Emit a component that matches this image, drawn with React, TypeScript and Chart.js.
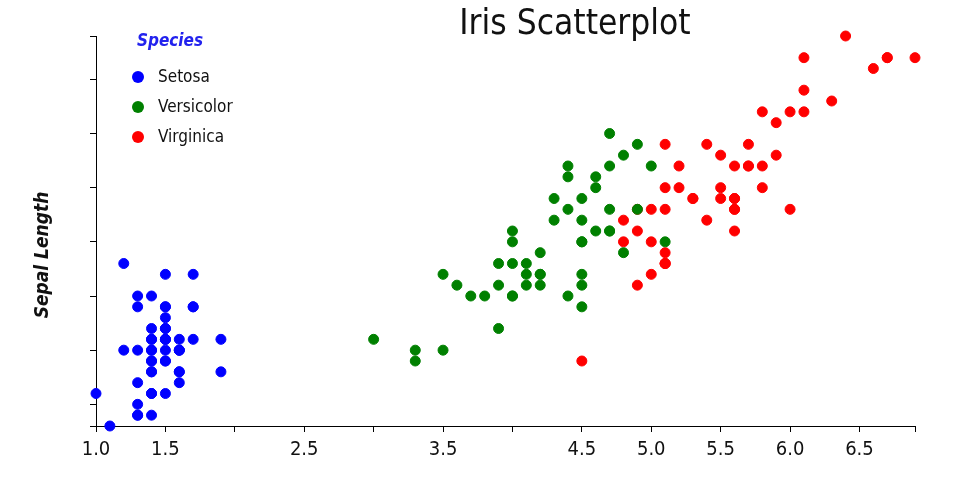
import React, { useEffect, useRef } from "react";
import { Chart, registerables } from "chart.js";

Chart.register(...registerables);

// Petal length (x) and sepal length (y) per species
const setosaX = [1.4,1.4,1.3,1.5,1.4,1.7,1.4,1.5,1.4,1.5,1.5,1.6,1.4,1.1,1.2,1.5,1.3,1.4,1.7,1.5,1.7,1.5,1.0,1.7,1.9,1.6,1.6,1.5,1.4,1.6,1.6,1.5,1.5,1.4,1.5,1.2,1.3,1.4,1.3,1.5,1.3,1.3,1.3,1.6,1.9,1.4,1.6,1.4,1.5,1.4];
const setosaY = [5.1,4.9,4.7,4.6,5.0,5.4,4.6,5.0,4.4,4.9,5.4,4.8,4.8,4.3,5.8,5.7,5.4,5.1,5.7,5.1,5.4,5.1,4.6,5.1,4.8,5.0,5.0,5.2,5.2,4.7,4.8,5.4,5.2,5.5,4.9,5.0,5.5,4.9,4.4,5.1,5.0,4.5,4.4,5.0,5.1,4.8,5.1,4.6,5.3,5.0];
const versicolorX = [4.7,4.5,4.9,4.0,4.6,4.5,4.7,3.3,4.6,3.9,3.5,4.2,4.0,4.7,3.6,4.4,4.5,4.1,4.5,3.9,4.8,4.0,4.9,4.7,4.3,4.4,4.8,5.0,4.5,3.5,3.8,3.7,3.9,5.1,4.5,4.5,4.7,4.4,4.1,4.0,4.4,4.6,4.0,3.3,4.2,4.2,4.2,4.3,3.0,4.1];
const versicolorY = [7.0,6.4,6.9,5.5,6.5,5.7,6.3,4.9,6.6,5.2,5.0,5.9,6.0,6.1,5.6,6.7,5.6,5.8,6.2,5.6,5.9,6.1,6.3,6.1,6.4,6.6,6.8,6.7,6.0,5.7,5.5,5.5,5.8,6.0,5.4,6.0,6.7,6.3,5.6,5.5,5.5,6.1,5.8,5.0,5.6,5.7,5.7,6.2,5.1,5.7];
const virginicaX = [6.0,5.1,5.9,5.6,5.8,6.6,4.5,6.3,5.8,6.1,5.1,5.3,5.5,5.0,5.1,5.3,5.5,6.7,6.9,5.0,5.7,4.9,6.7,4.9,5.7,6.0,4.8,4.9,5.6,5.8,6.1,6.4,5.6,5.1,5.6,6.1,5.6,5.5,4.8,5.4,5.6,5.1,5.1,5.9,5.7,5.2,5.0,5.2,5.4,5.1];
const virginicaY = [6.3,5.8,7.1,6.3,6.5,7.6,4.9,7.3,6.7,7.2,6.5,6.4,6.8,5.7,5.8,6.4,6.5,7.7,7.7,6.0,6.9,5.6,7.7,6.3,6.7,7.2,6.2,6.1,6.4,7.2,7.4,7.9,6.4,6.3,6.1,7.7,6.3,6.4,6.0,6.9,6.7,6.9,5.8,6.8,6.7,6.7,6.3,6.5,6.2,5.9];

const speciesNames = ["Setosa", "Versicolor", "Virginica"];
const speciesColors = ["#0000ff", "#008000", "#ff0000"];

const xTickValues = [1.0, 1.5, 2.0, 2.5, 3.0, 3.5, 4.0, 4.5, 5.0, 5.5, 6.0, 6.5, 6.9];
const xTickLabels = ["1.0", "1.5", "", "2.5", "", "3.5", "", "4.5", "5.0", "5.5", "6.0", "6.5", ""];
const yTickValues = [4.3, 4.5, 5.0, 5.5, 6.0, 6.5, 7.0, 7.5, 7.9];

const titleText = "Iris Scatterplot";
const yTitleText = "Sepal Length";
const legendTitle = "Species";

const FONT = "'DejaVu Sans Condensed', 'DejaVu Sans', sans-serif";

function zip(xs: number[], ys: number[]) {
  return xs.map((x, i) => ({ x, y: ys[i] }));
}

const overlayPlugin = {
  id: "overlay",
  afterDraw(chart: any) {
    const ctx = chart.ctx as CanvasRenderingContext2D;
    ctx.save();
    // title
    ctx.fillStyle = "#111";
    ctx.font = `35px ${FONT}`;
    ctx.textAlign = "center";
    ctx.textBaseline = "middle";
    ctx.fillText(titleText, 575, 25);

    // y title
    ctx.save();
    ctx.translate(43, 255);
    ctx.rotate(-Math.PI / 2);
    ctx.font = `italic bold 19px ${FONT}`;
    ctx.fillStyle = "#111";
    ctx.fillText(yTitleText, 0, 0);
    ctx.restore();

    // legend
    ctx.font = `italic bold 17px ${FONT}`;
    ctx.fillStyle = "#2222ee";
    ctx.textAlign = "center";
    ctx.fillText(legendTitle, 170, 42);
    ctx.textAlign = "left";
    ctx.font = `17px ${FONT}`;
    chart.data.datasets.forEach((ds: any, i: number) => {
      const cy = 77 + i * 30;
      ctx.beginPath();
      ctx.arc(138, cy, 6, 0, Math.PI * 2);
      ctx.fillStyle = ds.backgroundColor;
      ctx.fill();
      ctx.fillStyle = "#111";
      ctx.fillText(ds.label, 158, cy + 1);
    });
    ctx.restore();
  },
};

export default function App() {
  const ref = useRef<HTMLCanvasElement | null>(null);
  useEffect(() => {
    if (!ref.current) return;
    const series = [
      zip(setosaX, setosaY),
      zip(versicolorX, versicolorY),
      zip(virginicaX, virginicaY),
    ];
    const chart = new Chart(ref.current, {
      type: "scatter",
      data: {
        datasets: series.map((d, i) => ({
          label: speciesNames[i],
          data: d,
          backgroundColor: speciesColors[i],
          borderColor: speciesColors[i],
          borderWidth: 1,
          pointRadius: 5,
          pointHoverRadius: 5,
          clip: false as any,
        })),
      },
      options: {
        responsive: false,
        animation: false,
        events: [],
        layout: { padding: { left: 0, top: 36, right: 45, bottom: 0 } },
        plugins: {
          legend: { display: false },
          title: { display: false },
          tooltip: { enabled: false },
        },
        scales: {
          x: {
            type: "linear",
            min: 1.0,
            max: 6.9,
            afterBuildTicks: (scale: any) => {
              scale.ticks = xTickValues.map((v) => ({ value: v }));
            },
            afterFit: (scale: any) => {
              scale.height = 74;
              scale.paddingLeft = 0;
              scale.paddingRight = 0;
            },
            ticks: {
              autoSkip: false,
              maxRotation: 0,
              minRotation: 0,
              padding: 6,
              color: "#111",
              font: { family: FONT, size: 20 },
              callback: (value: any, index: number) => xTickLabels[index] ?? "",
            },
            grid: {
              drawOnChartArea: false,
              drawTicks: true,
              tickLength: 6,
              color: "#000",
            },
            border: { display: true, color: "#000", width: 1 },
          },
          y: {
            type: "linear",
            min: 4.3,
            max: 7.9,
            afterBuildTicks: (scale: any) => {
              scale.ticks = yTickValues.map((v) => ({ value: v }));
            },
            afterFit: (scale: any) => {
              scale.width = 96;
              scale.paddingTop = 0;
              scale.paddingBottom = 0;
            },
            ticks: { display: false },
            grid: {
              drawOnChartArea: false,
              drawTicks: true,
              tickLength: 6,
              color: "#000",
            },
            border: { display: true, color: "#000", width: 1 },
          },
        },
      },
      plugins: [overlayPlugin],
    });
    return () => chart.destroy();
  }, []);
  return (
    <div style={{ position: "absolute", left: 0, top: 0, width: 960, height: 500, background: "#fff" }}>
      <canvas ref={ref} width={960} height={500} />
    </div>
  );
}
